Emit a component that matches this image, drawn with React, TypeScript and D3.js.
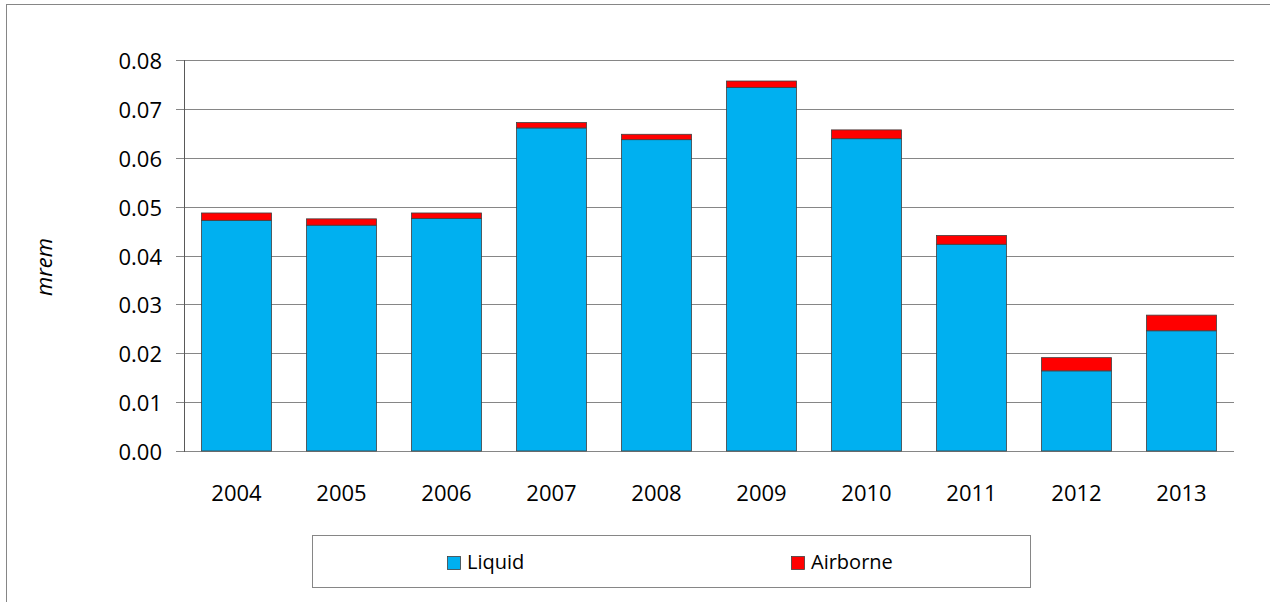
import React from "react";
import * as d3 from "d3";

const years = ["2004", "2005", "2006", "2007", "2008", "2009", "2010", "2011", "2012", "2013"];
const liquid = [0.0472, 0.0462, 0.0476, 0.0661, 0.0637, 0.0744, 0.0639, 0.0423, 0.0164, 0.0246];
const airborne = [0.0015, 0.0013, 0.0011, 0.0011, 0.0011, 0.0013, 0.0018, 0.0018, 0.0027, 0.0032];
const yTicks = [0, 0.01, 0.02, 0.03, 0.04, 0.05, 0.06, 0.07, 0.08];
const seriesNames = ["Liquid", "Airborne"];
const seriesColors = ["#00B0F0", "#FF0000"];

const W = 1270;
const H = 602;
const left = 184;
const right = 1234;
const top = 60;
const bottom = 451;
const FONT = "'Open Sans', sans-serif";

export default function App() {
  const x = d3.scaleBand<string>().domain(years).range([left, right]).paddingInner(1 / 3).paddingOuter(1 / 6);
  const y = d3.scaleLinear().domain([0, 0.08]).range([bottom, top]);

  const table = years.map((yr, i) => ({ year: yr, Liquid: liquid[i], Airborne: airborne[i] }));
  const stack = d3.stack<any>().keys(seriesNames)(table);

  return (
    <svg
      width={W}
      height={H}
      style={{ position: "absolute", left: 0, top: 0, background: "#fff", display: "block" }}
    >
      <rect x={6.5} y={4.5} width={1300} height={700} fill="#fff" stroke="#868686" strokeWidth={1} />

      {yTicks.map((t) => (
        <g key={t}>
          <line x1={176} x2={right} y1={Math.round(y(t)) + 0.5} y2={Math.round(y(t)) + 0.5} stroke="#868686" strokeWidth={1} />
          <text
            x={162}
            y={y(t)}
            textAnchor="end"
            dominantBaseline="central"
            fontFamily={FONT}
            fontSize={22}
            fill="#000"
          >
            {d3.format(".2f")(t)}
          </text>
        </g>
      ))}
      <line x1={left + 0.5} x2={left + 0.5} y1={top} y2={bottom + 1} stroke="#595959" strokeWidth={1} />

      {stack.map((layer, si) => (
        <g key={seriesNames[si]}>
          {layer.map((d: any, i: number) => (
            <rect
              key={i}
              x={x(years[i])!}
              y={y(d[1])}
              width={x.bandwidth()}
              height={y(d[0]) - y(d[1])}
              fill={seriesColors[si]}
              stroke="#404040"
              strokeWidth={0.8}
            />
          ))}
        </g>
      ))}

      {years.map((yr) => (
        <text
          key={yr}
          x={x(yr)! + x.bandwidth() / 2}
          y={501}
          textAnchor="middle"
          fontFamily={FONT}
          fontSize={22}
          fill="#000"
        >
          {yr}
        </text>
      ))}

      <text
        transform={`translate(52, 267) rotate(-90)`}
        textAnchor="middle"
        fontFamily={FONT}
        fontSize={22}
        fontStyle="italic"
        fill="#000"
      >
        mrem
      </text>

      <rect x={312.5} y={535.5} width={718} height={52} fill="#fff" stroke="#868686" strokeWidth={1} />
      {seriesNames.map((name, i) => {
        const sx = i === 0 ? 447 : 791;
        return (
          <g key={name}>
            <rect x={sx + 0.5} y={556.5} width={13} height={13} fill={seriesColors[i]} stroke="#404040" strokeWidth={0.8} />
            <text x={sx + 20} y={569} fontFamily={FONT} fontSize={20} fill="#000">
              {name}
            </text>
          </g>
        );
      })}
    </svg>
  );
}
